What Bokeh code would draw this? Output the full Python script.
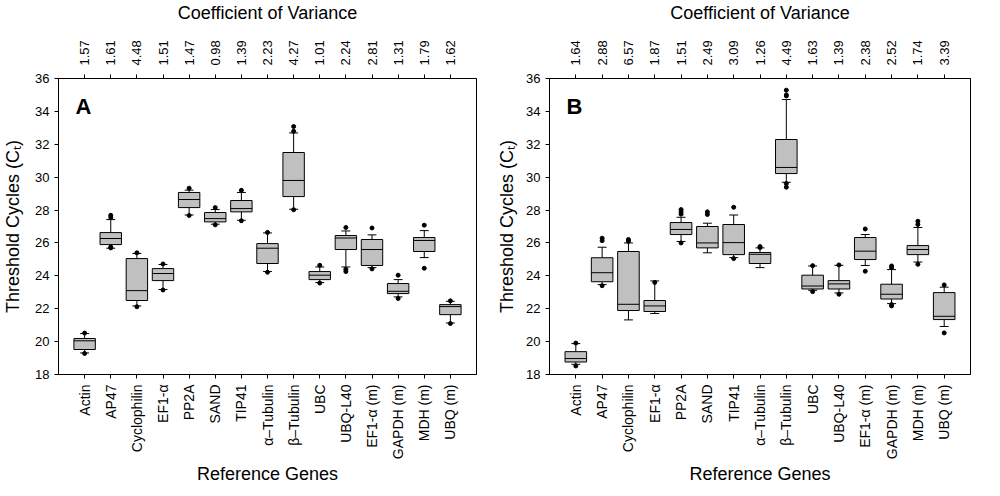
import math
from bokeh.plotting import figure
from bokeh.models import Range1d, FixedTicker, LinearAxis, ColumnDataSource, Label
from bokeh.layouts import row
from bokeh.embed import file_html
from bokeh.resources import INLINE

genes = ["Actin", "AP47", "Cyclophilin", "EF1-\u03b1", "PP2A", "SAND", "TIP41",
         "\u03b1\u2013Tubulin", "\u03b2\u2013Tubulin", "UBC", "UBQ-L40",
         "EF1-\u03b1 (m)", "GAPDH (m)", "MDH (m)", "UBQ (m)"]

# Panel A
cv_a = ["1.57", "1.61", "4.48", "1.51", "1.47", "0.98", "1.39", "2.23", "4.27",
        "1.01", "2.24", "2.81", "1.31", "1.79", "1.62"]
lo_a = [19.31, 25.68, 22.17, 23.17, 27.70, 27.14, 27.38, 24.26, 28.05, 23.59, 24.54, 24.50, 22.72, 25.11, 21.13]
q1_a = [19.52, 25.90, 22.50, 23.71, 28.15, 27.28, 27.89, 24.75, 28.82, 23.77, 25.60, 24.63, 22.92, 25.48, 21.64]
med_a = [20.05, 26.27, 23.10, 24.14, 28.64, 27.48, 28.09, 25.68, 29.80, 24.04, 26.30, 25.60, 23.06, 26.15, 22.13]
q3_a = [20.19, 26.63, 25.05, 24.44, 29.07, 27.85, 28.58, 25.96, 31.50, 24.26, 26.45, 26.21, 23.53, 26.33, 22.25]
hi_a = [20.49, 27.42, 25.36, 24.69, 29.21, 28.03, 29.07, 26.61, 32.69, 24.54, 26.73, 26.49, 23.77, 26.75, 22.45]
out_a = [[20.52, 19.28], [27.68, 27.55, 25.75, 25.70], [25.40, 22.12], [24.72, 23.14],
         [29.33, 27.67], [28.15, 27.10], [29.20, 27.35], [26.64, 24.22],
         [33.08, 32.79, 28.02], [24.64, 23.56], [26.94, 24.40, 24.26], [26.91, 24.42],
         [24.04, 22.62], [27.08, 24.46], [22.48, 21.10]]

# Panel B
cv_b = ["1.64", "2.88", "6.57", "1.87", "1.51", "2.49", "3.09", "1.26", "4.49",
        "1.63", "1.39", "2.38", "2.52", "1.74", "3.39"]
lo_b = [18.62, 23.47, 21.32, 21.71, 26.09, 25.40, 25.11, 24.50, 29.69, 23.12, 22.96, 24.63, 22.31, 24.84, 20.92]
q1_b = [18.76, 23.64, 21.89, 21.83, 26.51, 25.70, 25.29, 24.75, 30.22, 23.20, 23.20, 24.99, 22.59, 25.29, 21.34]
med_b = [18.97, 24.19, 22.27, 22.17, 26.82, 26.00, 26.02, 25.31, 30.59, 23.38, 23.51, 25.50, 22.88, 25.60, 21.54]
q3_b = [19.39, 25.10, 25.48, 22.50, 27.24, 27.00, 27.12, 25.42, 32.29, 24.04, 23.71, 26.33, 23.49, 25.84, 22.98]
hi_b = [19.88, 25.74, 26.00, 23.69, 27.56, 27.20, 27.70, 25.70, 34.72, 24.60, 24.64, 26.51, 24.38, 26.94, 23.31]
out_b = [[19.91, 18.52], [26.29, 26.14, 23.40], [26.21, 26.10], [23.60],
         [28.03, 27.89, 27.75, 26.00], [27.89, 27.73], [28.17, 25.05], [25.78, 25.72],
         [35.29, 35.00, 34.94, 29.61, 29.39], [24.62, 23.04], [24.66, 22.88],
         [26.85, 24.28], [24.60, 24.50, 22.17, 22.25], [27.32, 27.12, 24.70], [23.45, 20.53]]

FONT = "Liberation Sans"
BOX_W = 0.82
CAP_W = 0.34


def panel(letter, cv, lo, q1, med, q3, hi, outs, fw, bl, br, ylab_standoff):
    n = len(genes)
    xs = list(range(1, n + 1))
    p = figure(frame_width=fw, frame_height=296, output_backend="svg", toolbar_location=None,
               x_range=Range1d(0, n + 1), y_range=Range1d(18, 36),
               min_border_left=bl, min_border_right=br, min_border_top=70,
               min_border_bottom=10)
    p.xgrid.visible = False
    p.ygrid.visible = False
    p.outline_line_color = "black"
    p.outline_line_width = 1
    p.background_fill_color = "white"
    p.border_fill_color = "white"

    src = ColumnDataSource(dict(
        x=xs, lo=lo, q1=q1, med=med, q3=q3, hi=hi,
        bx0=[x - BOX_W / 2 for x in xs], bx1=[x + BOX_W / 2 for x in xs],
        cx0=[x - CAP_W / 2 for x in xs], cx1=[x + CAP_W / 2 for x in xs]))

    p.segment(x0="x", y0="q3", x1="x", y1="hi", source=src, line_color="black", line_width=1)
    p.segment(x0="x", y0="q1", x1="x", y1="lo", source=src, line_color="black", line_width=1)
    p.segment(x0="cx0", y0="hi", x1="cx1", y1="hi", source=src, line_color="black", line_width=1)
    p.segment(x0="cx0", y0="lo", x1="cx1", y1="lo", source=src, line_color="black", line_width=1)
    p.vbar(x="x", width=BOX_W, bottom="q1", top="q3", source=src,
           fill_color="#c0c0c0", line_color="black", line_width=1)
    p.segment(x0="bx0", y0="med", x1="bx1", y1="med", source=src, line_color="black", line_width=1)

    ox, oy = [], []
    for x, vals in zip(xs, outs):
        for v in vals:
            ox.append(x)
            oy.append(v)
    p.scatter(ox, oy, size=4, marker="circle", fill_color="black", line_color="black")

    # bottom axis: genes
    xa = p.xaxis[0]
    xa.ticker = FixedTicker(ticks=xs)
    xa.major_label_overrides = {x: g for x, g in zip(xs, genes)}
    xa.major_label_orientation = math.pi / 2
    xa.minor_tick_line_color = None
    xa.major_tick_in = 0
    xa.major_tick_out = 4
    xa.major_label_standoff = 6
    xa.major_label_text_font = FONT
    xa.major_label_text_font_size = "14px"
    xa.major_label_text_color = "black"
    xa.axis_label = "Reference Genes"
    xa.axis_label_text_font = FONT
    xa.axis_label_text_font_size = "18px"
    xa.axis_label_text_font_style = "normal"
    xa.axis_label_text_color = "black"
    xa.axis_label_standoff = 2
    xa.axis_line_color = "black"

    # top axis: coefficient of variance
    ta = LinearAxis(ticker=FixedTicker(ticks=xs),
                    major_label_overrides={x: c for x, c in zip(xs, cv)})
    ta.major_label_orientation = math.pi / 2
    ta.minor_tick_line_color = None
    ta.major_tick_in = 0
    ta.major_tick_out = 4
    ta.major_label_standoff = 9
    ta.major_label_text_font = FONT
    ta.major_label_text_font_size = "13px"
    ta.major_label_text_color = "black"
    ta.axis_label = "Coefficient of Variance"
    ta.axis_label_text_font = FONT
    ta.axis_label_text_font_size = "18px"
    ta.axis_label_text_font_style = "normal"
    ta.axis_label_text_color = "black"
    ta.axis_label_standoff = 14
    ta.axis_line_color = "black"
    p.add_layout(ta, "above")

    ya = p.yaxis[0]
    ya.ticker = FixedTicker(ticks=list(range(18, 37, 2)))
    ya.minor_tick_line_color = None
    ya.major_tick_in = 0
    ya.major_tick_out = 4
    ya.major_label_standoff = 5
    ya.major_label_text_font = FONT
    ya.major_label_text_font_size = "13px"
    ya.major_label_text_color = "black"
    ya.axis_label = "Threshold Cycles (C\u209c)"
    ya.axis_label_text_font = FONT
    ya.axis_label_text_font_size = "18px"
    ya.axis_label_text_font_style = "normal"
    ya.axis_label_text_color = "black"
    ya.axis_label_standoff = ylab_standoff
    ya.axis_line_color = "black"

    p.add_layout(Label(x=17, y=281, x_units="screen", y_units="screen", text=letter,
                       text_font=FONT, text_font_size="22px", text_font_style="bold",
                       text_baseline="top", text_color="black"))
    return p


pA = panel("A", cv_a, lo_a, q1_a, med_a, q3_a, hi_a, out_a, 418, 58, 14, 9)
pB = panel("B", cv_b, lo_b, q1_b, med_b, q3_b, hi_b, out_b, 421, 59, 10, 6)

layout = row(pA, pB)
open("out.html", "w").write(file_html(layout, INLINE))
